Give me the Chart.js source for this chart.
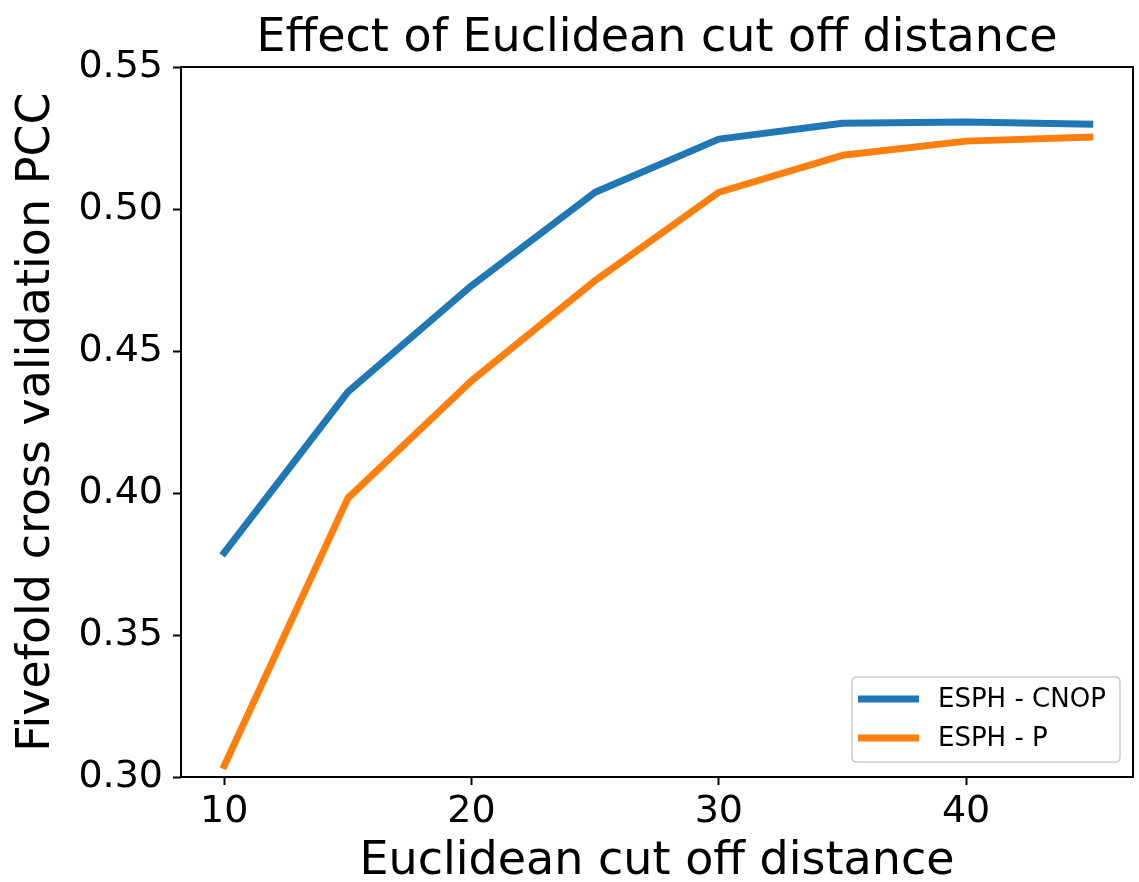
<!DOCTYPE html>
<html>
<head>
<meta charset="utf-8">
<script src="https://cdn.jsdelivr.net/npm/chart.js@4"></script>
<style>
  html, body { margin: 0; padding: 0; background: #fff; }
  #wrap { width: 1139px; height: 882px; position: relative; }
</style>
</head>
<body>
<div id="wrap"><canvas id="c"></canvas></div>
<script>
const distances = [10, 15, 20, 25, 30, 35, 40, 45];
const cnopValues = [0.379, 0.4356, 0.473, 0.5059, 0.5246, 0.5302, 0.5306, 0.5299];
const pValues = [0.304, 0.3982, 0.4395, 0.4748, 0.5059, 0.5189, 0.5239, 0.5253];
const xTicks = [10, 20, 30, 40];
const yTicks = [0.30, 0.35, 0.40, 0.45, 0.50, 0.55];
const seriesLabels = ['ESPH - CNOP', 'ESPH - P'];
const titleText = 'Effect of Euclidean cut off distance';
const xLabel = 'Euclidean cut off distance';
const yLabel = 'Fivefold cross validation PCC';

const FONT = "'DejaVu Sans', sans-serif";

const framePlugin = {
  id: 'frame',
  afterDraw(chart) {
    const {ctx, chartArea: a} = chart;
    ctx.save();
    ctx.strokeStyle = '#000';
    ctx.lineWidth = 2;
    ctx.strokeRect(a.left, a.top, a.right - a.left, a.bottom - a.top);
    ctx.restore();
  }
};

const titlePlugin = {
  id: 'areaTitle',
  afterDraw(chart) {
    const {ctx, chartArea: a} = chart;
    ctx.save();
    ctx.font = '46px ' + FONT;
    ctx.fillStyle = '#000';
    ctx.textAlign = 'center';
    ctx.textBaseline = 'alphabetic';
    ctx.fillText(titleText, (a.left + a.right) / 2, 51);
    ctx.restore();
  }
};

const legendPlugin = {
  id: 'customLegend',
  afterDraw(chart) {
    const {ctx, chartArea: a} = chart;
    const boxW = 268, boxH = 85;
    const bx = a.right - 13 - boxW, by = a.bottom - 15 - boxH;
    ctx.save();
    ctx.fillStyle = 'rgba(255,255,255,0.8)';
    ctx.strokeStyle = '#cccccc';
    ctx.lineWidth = 1.5;
    const r = 5;
    ctx.beginPath();
    ctx.moveTo(bx + r, by);
    ctx.lineTo(bx + boxW - r, by);
    ctx.quadraticCurveTo(bx + boxW, by, bx + boxW, by + r);
    ctx.lineTo(bx + boxW, by + boxH - r);
    ctx.quadraticCurveTo(bx + boxW, by + boxH, bx + boxW - r, by + boxH);
    ctx.lineTo(bx + r, by + boxH);
    ctx.quadraticCurveTo(bx, by + boxH, bx, by + boxH - r);
    ctx.lineTo(bx, by + r);
    ctx.quadraticCurveTo(bx, by, bx + r, by);
    ctx.closePath();
    ctx.fill();
    ctx.stroke();
    ctx.font = '26px ' + FONT;
    ctx.textBaseline = 'middle';
    ctx.textAlign = 'left';
    chart.data.datasets.forEach((ds, i) => {
      const y = by + 22 + i * 39;
      ctx.strokeStyle = ds.borderColor;
      ctx.lineWidth = 7;
      ctx.lineCap = 'butt';
      ctx.beginPath();
      ctx.moveTo(bx + 6, y);
      ctx.lineTo(bx + 67, y);
      ctx.stroke();
      ctx.fillStyle = '#000';
      ctx.fillText(ds.label, bx + 86, y + 1);
    });
    ctx.restore();
  }
};

new Chart(document.getElementById('c'), {
  type: 'line',
  data: {
    datasets: [
      {
        label: seriesLabels[0],
        data: distances.map((d, i) => ({x: d, y: cnopValues[i]})),
        borderColor: '#1f77b4',
        backgroundColor: '#1f77b4',
        borderWidth: 7,
        pointRadius: 0,
        tension: 0,
        borderCapStyle: 'square',
        borderJoinStyle: 'round',
        fill: false
      },
      {
        label: seriesLabels[1],
        data: distances.map((d, i) => ({x: d, y: pValues[i]})),
        borderColor: '#ff7f0e',
        backgroundColor: '#ff7f0e',
        borderWidth: 7,
        pointRadius: 0,
        tension: 0,
        borderCapStyle: 'square',
        borderJoinStyle: 'round',
        fill: false
      }
    ]
  },
  options: {
    responsive: true,
    maintainAspectRatio: false,
    animation: false,
    layout: { padding: { left: 0, right: 6, top: 67, bottom: 0 } },
    plugins: {
      legend: { display: false },
      tooltip: { enabled: false },
      title: { display: false }
    },
    scales: {
      x: {
        type: 'linear',
        min: 8.25,
        max: 46.75,
        afterFit(scale) { scale.height = 105; },
        afterBuildTicks(scale) { scale.ticks = xTicks.map(v => ({value: v})); },
        grid: { display: true, drawOnChartArea: false, drawTicks: true, tickLength: 8, tickWidth: 2, tickColor: '#000' },
        border: { display: false },
        ticks: {
          color: '#000',
          font: { family: FONT, size: 38 },
          padding: 4,
          maxRotation: 0,
          autoSkip: false,
          callback: v => String(v)
        },
        title: {
          display: true,
          text: xLabel,
          color: '#000',
          font: { family: FONT, size: 46, lineHeight: 0.85 },
          padding: { top: 0, bottom: 0 }
        }
      },
      y: {
        type: 'linear',
        min: 0.30,
        max: 0.55,
        afterFit(scale) { scale.width = 181; },
        afterBuildTicks(scale) { scale.ticks = yTicks.map(v => ({value: v})); },
        grid: { display: true, drawOnChartArea: false, drawTicks: true, tickLength: 8, tickWidth: 2, tickColor: '#000' },
        border: { display: false },
        ticks: {
          color: '#000',
          font: { family: FONT, size: 38 },
          padding: 10,
          autoSkip: false,
          callback: v => Number(v).toFixed(2)
        },
        title: {
          display: true,
          text: yLabel,
          color: '#000',
          font: { family: FONT, size: 46, lineHeight: 1.6 },
          padding: { top: 0, bottom: 0 }
        }
      }
    }
  },
  plugins: [framePlugin, titlePlugin, legendPlugin]
});
</script>
</body>
</html>
